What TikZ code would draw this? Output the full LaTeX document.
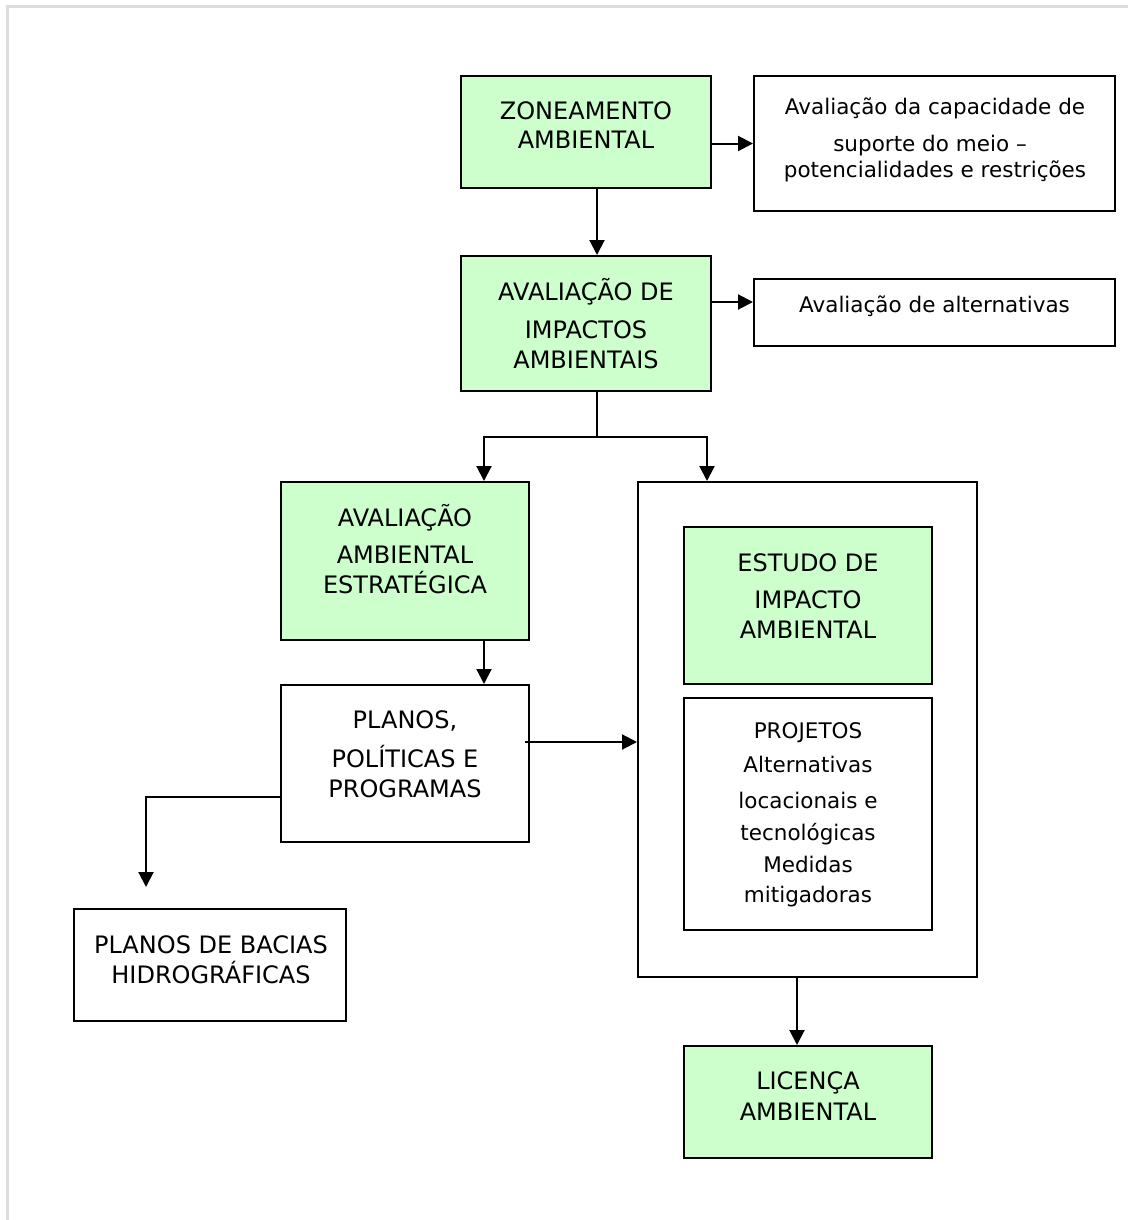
\documentclass[tikz,border=0pt]{standalone}
\usepackage{fontspec}
\setmainfont{DejaVu Sans}
\usetikzlibrary{arrows.meta}
\definecolor{boxgreen}{HTML}{CCFFCC}
\definecolor{framegray}{HTML}{DDDDDD}
\begin{document}
\begin{tikzpicture}[x=1pt,y=-1pt,
  box/.style={draw=black,line width=2pt,inner sep=0pt,anchor=center},
  greenbox/.style={box,fill=boxgreen},
  bigtxt/.style={font=\fontsize{24}{29}\selectfont,anchor=base,inner sep=0pt},
  smalltxt/.style={font=\fontsize{21.5}{26}\selectfont,anchor=base,inner sep=0pt},
  link/.style={draw=black,line width=2pt},
  arr/.style={link,-{Triangle[length=15pt,width=15pt]}}
]
\useasboundingbox (0,0) rectangle (1128,1220);
% page frame
\draw[framegray,line width=2.5pt] (7.5,1220) -- (7.5,6.5) -- (1128,6.5);

% boxes
\node[greenbox,minimum width=250pt,minimum height=112pt] (zon) at (586,132) {};
\node[box,minimum width=361pt,minimum height=135pt] (capac) at (934.5,143.5) {};
\node[greenbox,minimum width=250pt,minimum height=135pt] (aia) at (586,323.5) {};
\node[box,minimum width=361pt,minimum height=67pt] (alt) at (934.5,312.5) {};
\node[greenbox,minimum width=248pt,minimum height=158pt] (aae) at (405,561) {};
\node[box,minimum width=339pt,minimum height=495pt] (big) at (807.5,729.5) {};
\node[greenbox,minimum width=248pt,minimum height=157pt] (eia) at (808,605.5) {};
\node[box,minimum width=248pt,minimum height=232pt] (proj) at (808,814) {};
\node[box,minimum width=248pt,minimum height=157pt] (ppp) at (405,763.5) {};
\node[box,minimum width=272pt,minimum height=112pt] (bac) at (210,965) {};
\node[greenbox,minimum width=248pt,minimum height=112pt] (lic) at (808,1102) {};

% texts
\node[bigtxt] (zon1) at (586,120) {ZONEAMENTO};
\node[bigtxt] (zon2) at (586,148) {AMBIENTAL};
\node[smalltxt] (cap1) at (935,115) {Avaliação da capacidade de};
\node[smalltxt] (cap2) at (930,151) {suporte do meio –};
\node[smalltxt] (cap3) at (935,177) {potencialidades e restrições};
\node[bigtxt] (aia1) at (586,300) {AVALIAÇÃO DE};
\node[bigtxt] (aia2) at (586,338) {IMPACTOS};
\node[bigtxt] (aia3) at (586,368) {AMBIENTAIS};
\node[smalltxt] (alt1) at (934.5,312) {Avaliação de alternativas};
\node[bigtxt] (aae1) at (405,526) {AVALIAÇÃO};
\node[bigtxt] (aae2) at (405,563) {AMBIENTAL};
\node[bigtxt] (aae3) at (405,593) {ESTRATÉGICA};
\node[bigtxt] (eia1) at (808,571) {ESTUDO DE};
\node[bigtxt] (eia2) at (808,608) {IMPACTO};
\node[bigtxt] (eia3) at (808,638) {AMBIENTAL};
\node[smalltxt] (pj1) at (808,738) {PROJETOS};
\node[smalltxt] (pj2) at (808,772) {Alternativas};
\node[smalltxt] (pj3) at (808,808) {locacionais e};
\node[smalltxt] (pj4) at (808,840) {tecnológicas};
\node[smalltxt] (pj5) at (808,872) {Medidas};
\node[smalltxt] (pj6) at (808,902) {mitigadoras};
\node[bigtxt] (ppp1) at (405,728) {PLANOS,};
\node[bigtxt] (ppp2) at (405,767) {POLÍTICAS E};
\node[bigtxt] (ppp3) at (405,797) {PROGRAMAS};
\node[bigtxt] (bac1) at (211,953) {PLANOS DE BACIAS};
\node[bigtxt] (bac2) at (211,983) {HIDROGRÁFICAS};
\node[bigtxt] (lic1) at (808,1089) {LICENÇA};
\node[bigtxt] (lic2) at (808,1120) {AMBIENTAL};

% connector guide coordinates
\coordinate (mx) at (597,0);
\coordinate (jn) at (597,437);
\coordinate (la) at (484,0);
\coordinate (lb) at (707,0);
\coordinate (ay) at (0,302);
\coordinate (pe) at (525,742);
\coordinate (py) at (0,797);
\coordinate (bend) at (146,887);
\coordinate (lx) at (797,0);

% connectors
\draw[arr] (zon.east |- capac.center) -- (capac.west);
\draw[arr] (zon.south -| mx) -- (aia.north -| mx);
\draw[arr] (aia.east |- ay) -- (alt.west |- ay);
\draw[link] (aia.south -| jn) -- (jn);
\draw[arr] (jn) -| (aae.north -| la);
\draw[arr] (jn) -| (big.north -| lb);
\draw[arr] (aae.south -| la) -- (ppp.north -| la);
\draw[arr] (pe) -- (big.west |- pe);
\draw[arr] (ppp.west |- py) -| (bend);
\draw[arr] (big.south -| lx) -- (lic.north -| lx);
\end{tikzpicture}
\end{document}
